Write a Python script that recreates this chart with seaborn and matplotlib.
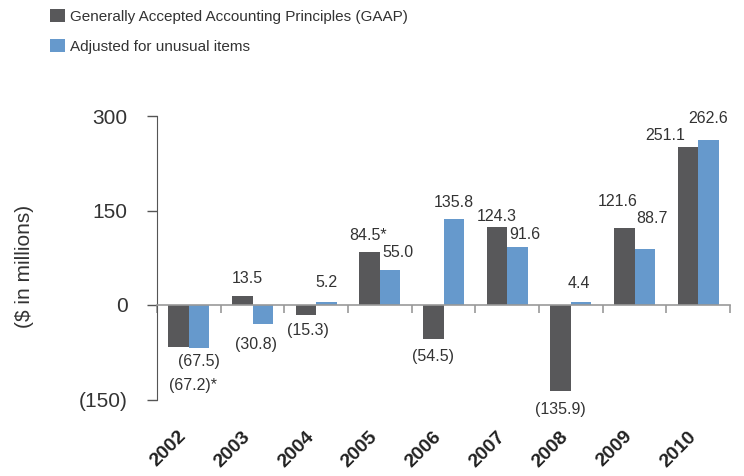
import numpy as np
import pandas as pd
import seaborn as sns
import matplotlib.pyplot as plt
from matplotlib.patches import Patch

years = ["2002", "2003", "2004", "2005", "2006", "2007", "2008", "2009", "2010"]
gaap = [-67.2, 13.5, -15.3, 84.5, -54.5, 124.3, -135.9, 121.6, 251.1]
adjusted = [-67.5, -30.8, 5.2, 55.0, 135.8, 91.6, 4.4, 88.7, 262.6]
gaap_marks = ["*", "", "", "*", "", "", "", "", ""]
series = ["Generally Accepted Accounting Principles (GAAP)", "Adjusted for unusual items"]
yticks = [-150, 0, 150, 300]

# label nudges in pixels (dx, gap from bar end)
gaap_nudge = [(14, 31), (5, 10), (2, 8), (-2, 9), (0, 10), (0, 3), (0, 11), (-7, 19), (-23, 4)]
adj_nudge = [(0, 6), (-7, 13), (0, 12), (8, 10), (0, 9), (7, 5), (-2, 11), (7, 23), (0, 14)]

DARK = "#58585a"
BLUE = "#6699cc"
TXT = "#333333"

df = pd.DataFrame({
    "year": years * 2,
    "value": gaap + adjusted,
    "series": [series[0]] * len(years) + [series[1]] * len(years),
})

sns.set_style("white")
plt.rcParams["font.family"] = ["Liberation Sans", "DejaVu Sans"]

fig, ax = plt.subplots(figsize=(7.44, 4.76), dpi=100)
plt.subplots_adjust(left=157 / 744, right=730 / 744, bottom=76.5 / 476, top=360 / 476)

sns.barplot(data=df, x="year", y="value", hue="series", order=years, hue_order=series,
            palette=[DARK, BLUE], saturation=1, width=0.64, linewidth=0,
            ax=ax, legend=False)

ax.set_ylim(-150, 300)
ax.set_xlim(-0.5, len(years) - 0.5)
ax.set_yticks(yticks)
ax.set_yticklabels([f"({-v})" if v < 0 else str(v) for v in yticks], fontsize=15, color=TXT)
ax.tick_params(axis="y", direction="out", length=7, width=1, color="#555555", pad=14, left=True)

ax.spines["top"].set_visible(False)
ax.spines["right"].set_visible(False)
ax.spines["left"].set_color("#555555")
ax.spines["bottom"].set_position(("data", 0))
ax.spines["bottom"].set_color("#999999")
ax.spines["bottom"].set_linewidth(1.2)

ax.set_xticks(np.arange(-0.5, len(years), 1))
ax.set_xticklabels([])
ax.tick_params(axis="x", direction="out", length=6, width=1.2, color="#999999", bottom=True)
ax.set_xlabel("")

for i, y in enumerate(years):
    ax.text(i + 0.02, -0.10, y, transform=ax.get_xaxis_transform(), rotation=45,
            ha="right", va="top", fontsize=14, fontweight="bold", color="#222222")

ax.set_ylabel("($ in millions)", fontsize=15, color=TXT)
ax.yaxis.set_label_coords(-0.215, 0.468)


def fmt(v, mark=""):
    s = f"{abs(v):.1f}"
    return (f"({s})" if v < 0 else s) + mark


half = 0.16
for i in range(len(years)):
    for k, (vals, nudge, off) in enumerate([(gaap, gaap_nudge, -half), (adjusted, adj_nudge, half)]):
        v = vals[i]
        dx, gap = nudge[i]
        mark = gaap_marks[i] if k == 0 else ""
        sign = 1 if v >= 0 else -1
        ax.annotate(fmt(v, mark), xy=(i + off, v), xytext=(dx * 0.72, sign * gap * 0.72),
                    textcoords="offset points", ha="center",
                    va="bottom" if v >= 0 else "top", fontsize=11.5, color=TXT)

handles = [Patch(facecolor=DARK, edgecolor="none"), Patch(facecolor=BLUE, edgecolor="none")]
fig.legend(handles, series, loc="upper left", bbox_to_anchor=(50 / 744, 1 - 9 / 476),
           frameon=False, fontsize=11, handlelength=0.95, handleheight=0.95,
           handletextpad=0.35, labelspacing=1.0, borderpad=0, borderaxespad=0,
           labelcolor=TXT)

fig.savefig("out.png", dpi=100)
